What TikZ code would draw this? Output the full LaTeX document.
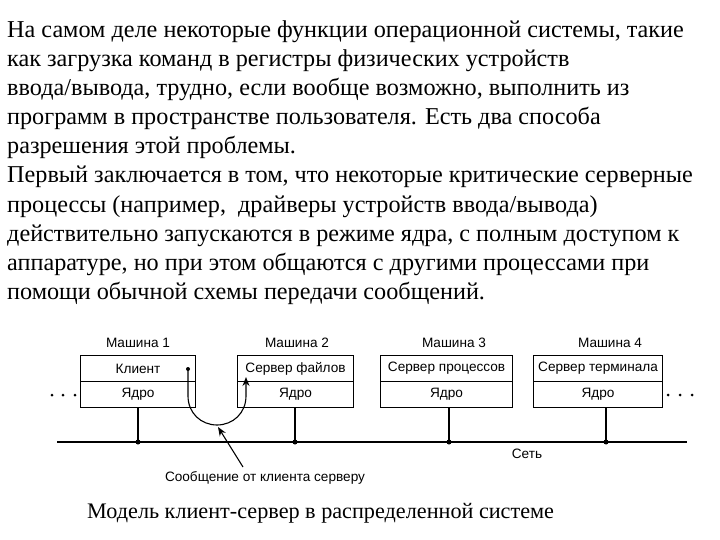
\documentclass[tikz,border=0pt]{standalone}
\usepackage{fontspec}
\setmainfont{Liberation Serif}
\newfontfamily\diagfont{Liberation Sans}
\usetikzlibrary{arrows.meta}
\begin{document}
\begin{tikzpicture}[x=1pt,y=-1pt,
  para/.style={anchor=base west,inner sep=0pt,font=\fontsize{24.2}{29}\selectfont},
  captext/.style={anchor=base west,inner sep=0pt,font=\fontsize{22.2}{27}\selectfont},
  lbl/.style={inner sep=0pt,font=\diagfont\fontsize{13.6}{16}\selectfont},
  cell/.style={draw,line width=1.1pt,anchor=north west,inner sep=0pt,minimum height=26pt,font=\diagfont\fontsize{13.6}{16}\selectfont},
  conn/.style={line width=1.1pt},
  bigdot/.style={circle,fill,inner sep=0pt,minimum size=5pt},
  smalldot/.style={circle,fill,inner sep=0pt,minimum size=3pt}]
\useasboundingbox (0,0) rectangle (720,540);
% paragraph
\node[para] (l1) at (7,38) {На самом деле некоторые функции операционной системы, такие};
\node[para] (l2) at (7,67) {как загрузка команд в регистры физических устройств};
\node[para] (l3) at (7,96) {ввода/вывода, трудно, если вообще возможно, выполнить из};
\node[para] (l4) at (7,125) {программ в пространстве пользователя. Есть два способа};
\node[para] (l5) at (7,154) {разрешения этой проблемы.};
\node[para] (l6) at (7,183) {Первый заключается в том, что некоторые критические серверные};
\node[para] (l7) at (7,212) {процессы (например,\ \ драйверы устройств ввода/вывода)};
\node[para] (l8) at (7,241) {действительно запускаются в режиме ядра, с полным доступом к};
\node[para] (l9) at (7,270) {аппаратуре, но при этом общаются с другими процессами при};
\node[para] (l10) at (7,299) {помощи обычной схемы передачи сообщений.};
% machine labels
\node[lbl] (m1) at (138,343) {Машина 1};
\node[lbl] (m2) at (297,343) {Машина 2};
\node[lbl] (m3) at (454,343) {Машина 3};
\node[lbl] (m4) at (610,343) {Машина 4};
% boxes
\node[cell,minimum width=115pt] (c1) at (80,355) {Клиент};
\node[cell,minimum width=115pt] (k1) at (80,381) {Ядро};
\node[cell,minimum width=116pt] (c2) at (237,355) {Сервер файлов};
\node[cell,minimum width=116pt] (k2) at (237,381) {Ядро};
\node[cell,minimum width=132pt] (c3) at (380,355) {Сервер процессов};
\node[cell,minimum width=132pt] (k3) at (380,381) {Ядро};
\node[cell,minimum width=129pt] (c4) at (533,355) {Сервер терминала};
\node[cell,minimum width=129pt] (k4) at (533,381) {Ядро};
% network
\coordinate (netL) at (57,442);
\coordinate (netR) at (687,442);
\draw[conn] (netL) -- (netR);
\node[bigdot] (d1) at (138,442) {};
\node[bigdot] (d2) at (295,442) {};
\node[bigdot] (d3) at (449,442) {};
\node[bigdot] (d4) at (606,442) {};
\draw[conn] (k1.south -| d1) -- (d1.center);
\draw[conn] (k2.south -| d2) -- (d2.center);
\draw[conn] (k3.south -| d3) -- (d3.center);
\draw[conn] (k4.south -| d4) -- (d4.center);
\node[lbl] (net) at (527,454) {Сеть};
% ellipsis dots
\node[smalldot] (e1) at (52,395) {};
\node[smalldot] (e2) at (63,395) {};
\node[smalldot] (e3) at (75,395) {};
\node[smalldot] (f1) at (668,395) {};
\node[smalldot] (f2) at (680,395) {};
\node[smalldot] (f3) at (692,395) {};
% message curve
\node[smalldot,minimum size=4pt] (cdot) at (188,369) {};
\coordinate (tip) at (246,377);
\draw[conn,-{Stealth[length=9pt,width=7pt]}] (cdot.center) -- (188,396) .. controls (188,413) and (201,425) .. (217,425) .. controls (233,425) and (246,413) .. (246,396) -- (tip);
% message label
\node[lbl] (msg) at (265,478) {Сообщение от клиента серверу};
\coordinate (tail) at (243,467);
\coordinate (ptip) at (218,427);
\draw[conn,-{Stealth[length=9pt,width=7pt]}] (tail) -- (ptip);
% caption
\node[captext] (cap) at (87,518) {Модель клиент-сервер в распределенной системе};
\end{tikzpicture}
\end{document}
